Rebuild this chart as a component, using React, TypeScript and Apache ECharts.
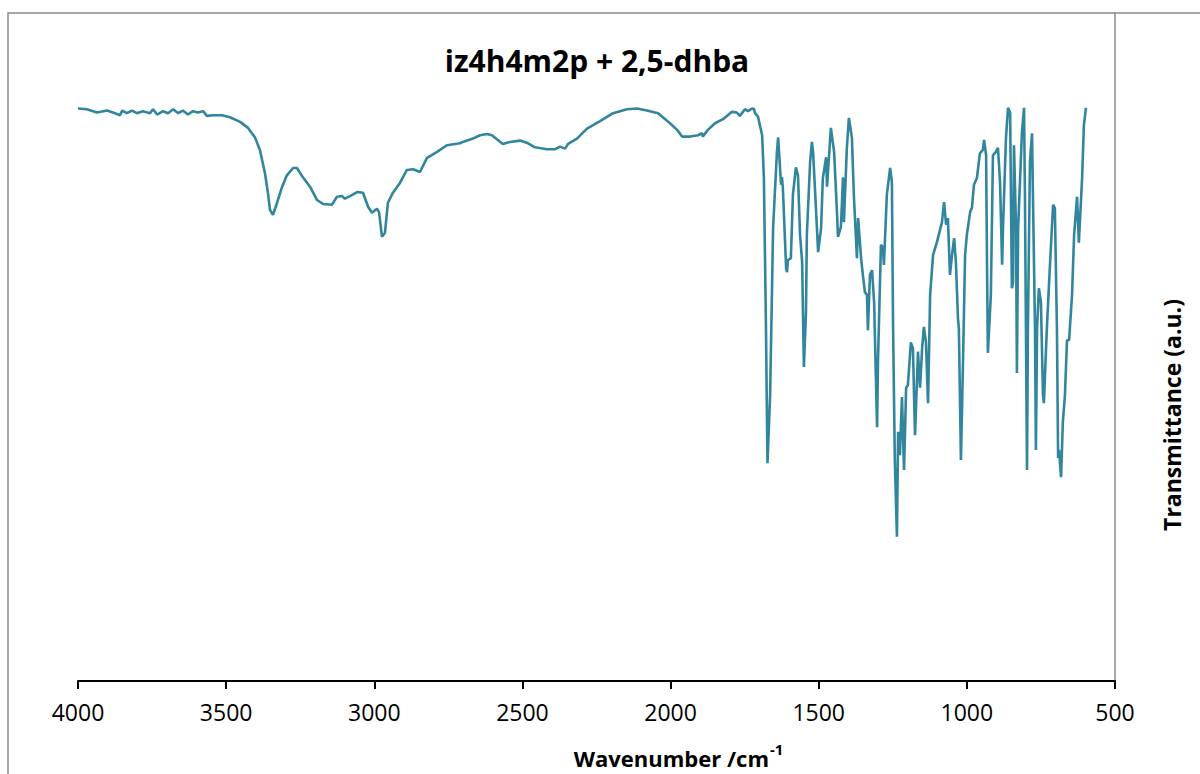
import React, { useEffect, useRef } from "react";
import * as echarts from "echarts";

// Wavenumber (cm-1) of each sample — high-frequency region 4000–1700
const wnHigh = [
  4000, 3970, 3936, 3902, 3882, 3858, 3851, 3835, 3818, 3801, 3781, 3757, 3747, 3733, 3713, 3696, 3679,
  3662, 3646, 3629, 3612, 3595, 3578, 3565, 3544, 3514, 3487, 3453, 3426, 3403, 3386, 3369, 3359, 3352,
  3342, 3328, 3311, 3295, 3274, 3261, 3241, 3217, 3193, 3173, 3143, 3126, 3109, 3099, 3082, 3058, 3038,
  3021, 3008, 2991, 2984, 2974, 2964, 2954, 2937, 2913, 2890, 2869, 2846, 2822, 2788, 2755, 2711, 2701,
  2667, 2643, 2620, 2603, 2586, 2566, 2542, 2508, 2481, 2458, 2417, 2390, 2373, 2356, 2346, 2316, 2282,
  2238, 2194, 2147, 2113, 2080, 2042, 2002, 1978, 1961, 1934, 1907, 1894, 1891, 1874, 1850, 1823, 1793,
  1776, 1766, 1749, 1739, 1725, 1718, 1715, 1705,
];
// Transmittance (a.u.) for wnHigh
const tHigh = [
  85.7, 85.6, 85.1, 85.4, 85.1, 84.7, 85.4, 85.0, 85.4, 85.0, 85.3, 85.0, 85.6, 84.8, 85.3, 85.0, 85.6,
  85.0, 85.4, 84.8, 85.3, 85.1, 85.3, 84.6, 84.7, 84.7, 84.4, 83.7, 82.8, 81.4, 79.5, 76.0, 73.1, 70.5,
  69.8, 71.6, 74.0, 75.7, 76.8, 76.8, 75.4, 74.0, 72.0, 71.4, 71.3, 72.5, 72.6, 72.2, 72.6, 73.2, 73.1,
  71.0, 70.1, 70.7, 70.2, 66.5, 67.1, 71.6, 73.1, 74.6, 76.5, 76.6, 76.2, 78.3, 79.2, 80.2, 80.5, 80.7,
  81.2, 81.7, 81.9, 81.7, 81.1, 80.4, 80.7, 80.9, 80.5, 79.9, 79.6, 79.6, 80.0, 79.7, 80.4, 81.2, 82.7,
  83.8, 85.0, 85.6, 85.7, 85.4, 85.0, 83.5, 82.5, 81.5, 81.5, 81.7, 82.0, 81.5, 82.5, 83.5, 84.1, 85.2,
  85.1, 84.6, 85.6, 85.3, 85.7, 85.6, 85.0, 84.5,
];

// Fingerprint region 1700–600
const wnLow = [
  1691, 1685, 1678, 1673, 1664, 1654, 1641, 1637, 1627, 1624, 1621, 1610, 1607, 1604, 1594, 1587, 1577,
  1570, 1563, 1556, 1550, 1543, 1540, 1529, 1523, 1519, 1506, 1502, 1492, 1486, 1475, 1472, 1465, 1459,
  1448, 1438, 1435, 1425, 1418, 1415, 1405, 1398, 1388, 1381, 1371, 1367, 1357, 1351, 1344, 1337, 1334,
  1327, 1320, 1313, 1303, 1300, 1290, 1283, 1280, 1270, 1259, 1253, 1249, 1243, 1236, 1232, 1226, 1219,
  1212, 1205, 1199, 1189, 1182, 1175, 1165, 1158, 1151, 1145, 1138, 1131, 1124, 1114, 1101, 1084, 1077,
  1070, 1064, 1057, 1050, 1043, 1037, 1030, 1027, 1020, 1013, 1006, 1000, 989, 983, 976, 966, 956, 946,
  942, 935, 932, 929, 919, 912, 902, 895, 888, 881, 878, 868, 861, 854, 848, 844, 841, 834, 831, 827, 814,
  807, 804, 797, 794, 787, 780, 777, 770, 767, 763, 757, 750, 743, 740, 730, 719, 709, 703, 696, 692, 689,
  682, 676, 669, 662, 655, 645, 638, 628, 622, 611, 605, 598,
];
const tLow = [
  81.7, 75.3, 52.8, 32.6, 42.8, 67.8, 79.2, 81.4, 74.3, 75.4, 73.8, 61.8, 61.2, 63.0, 63.3, 72.8, 76.9,
  75.7, 66.8, 62.7, 47.0, 55.2, 66.8, 77.7, 80.7, 79.2, 67.8, 64.2, 67.8, 75.3, 78.4, 74.0, 78.7, 82.8,
  79.2, 69.8, 66.5, 68.0, 75.4, 68.7, 79.8, 84.3, 81.3, 72.3, 63.3, 69.3, 63.3, 60.8, 58.2, 57.8, 52.5,
  60.8, 61.5, 56.7, 38.0, 47.8, 65.3, 64.8, 62.3, 72.8, 76.8, 74.7, 52.8, 32.8, 21.6, 37.3, 33.8, 42.5,
  31.6, 43.9, 44.3, 50.7, 49.8, 36.8, 49.3, 43.9, 49.8, 53.0, 50.7, 41.6, 57.8, 63.8, 65.7, 68.7, 71.7,
  68.3, 69.3, 60.8, 63.8, 66.3, 62.7, 54.3, 52.8, 33.1, 47.8, 63.8, 66.8, 70.2, 70.8, 74.3, 75.3, 79.0, 79.5,
  81.0, 78.7, 62.7, 49.1, 57.8, 78.7, 79.2, 79.8, 74.7, 62.3, 67.8, 81.3, 85.8, 85.1, 58.8, 59.7, 80.2, 67.8, 46.1, 67.8, 82.2,
  85.8, 72.8, 31.6, 52.8, 77.7, 82.0, 72.8, 52.8, 34.6, 52.8, 58.8, 56.7, 42.8, 41.6, 52.8, 62.7, 71.3, 70.8, 52.8, 33.4, 34.6,
  30.5, 38.8, 42.8, 51.0, 51.0, 57.8, 66.8, 72.5, 65.6, 75.3, 83.2, 85.8,
];

const xTicks = [500, 1000, 1500, 2000, 2500, 3000, 3500, 4000];
const titleText = "iz4h4m2p + 2,5-dhba";
const xName = "Wavenumber /cm";
const xNameSup = "-1";
const yName = "Transmittance (a.u.)";

export default function App() {
  const ref = useRef<HTMLDivElement>(null);
  useEffect(() => {
    if (!ref.current) return;
    const chart = echarts.init(ref.current, undefined, { renderer: "svg" });
    const wn = [...wnHigh, ...wnLow];
    const tr = [...tHigh, ...tLow];
    const data = wn.map((w, i) => [w, tr[i]]);
    const font = "'Open Sans', 'Liberation Sans', sans-serif";
    chart.setOption({
      animation: false,
      backgroundColor: "#ffffff",
      grid: { left: 78, right: 85, top: 13, bottom: 93, containLabel: false },
      xAxis: {
        type: "value",
        min: xTicks[0],
        max: xTicks[xTicks.length - 1],
        interval: 500,
        inverse: true,
        axisLine: { show: true, onZero: false, lineStyle: { color: "#000", width: 2 } },
        axisTick: { show: true, inside: false, length: 8, lineStyle: { color: "#000", width: 2 } },
        axisLabel: {
          show: true,
          color: "#000",
          fontSize: 23,
          fontFamily: font,
          margin: 19,
          formatter: (v: number) => String(v),
        },
        splitLine: { show: false },
      },
      yAxis: {
        type: "value",
        min: 0,
        max: 100,
        position: "right",
        axisLine: { show: true, lineStyle: { color: "#8a8a8a", width: 1.5 } },
        axisTick: { show: false },
        axisLabel: { show: false },
        splitLine: { show: false },
      },
      series: [
        {
          type: "line",
          data,
          showSymbol: false,
          symbol: "none",
          lineStyle: { color: "#31859C", width: 2.6 },
          z: 3,
        },
      ],
      graphic: [
        {
          type: "rect",
          shape: { x: 8, y: 13, width: 1400, height: 1000 },
          style: { fill: "none", stroke: "#8a8a8a", lineWidth: 1.5 },
          z: 0,
        },
        {
          type: "text",
          x: 597,
          y: 60,
          style: {
            text: titleText,
            fontSize: 30,
            fontWeight: "bold",
            fontFamily: font,
            fill: "#000",
            textAlign: "center",
            textVerticalAlign: "middle",
          },
        },
        {
          type: "text",
          x: 769,
          y: 758,
          style: {
            text: xName,
            fontSize: 22,
            fontWeight: "bold",
            fontFamily: font,
            fill: "#000",
            textAlign: "right",
            textVerticalAlign: "middle",
          },
        },
        {
          type: "text",
          x: 770,
          y: 749,
          style: {
            text: xNameSup,
            fontSize: 15,
            fontWeight: "bold",
            fontFamily: font,
            fill: "#000",
            textAlign: "left",
            textVerticalAlign: "middle",
          },
        },
        {
          type: "text",
          x: 1172,
          y: 415,
          rotation: Math.PI / 2,
          style: {
            text: yName,
            fontSize: 23,
            fontWeight: "bold",
            fontFamily: font,
            fill: "#000",
            textAlign: "center",
            textVerticalAlign: "middle",
          },
        },
      ],
    });
    return () => chart.dispose();
  }, []);
  return (
    <div
      ref={ref}
      style={{ position: "fixed", left: 0, top: 0, width: 1200, height: 774 }}
    />
  );
}
